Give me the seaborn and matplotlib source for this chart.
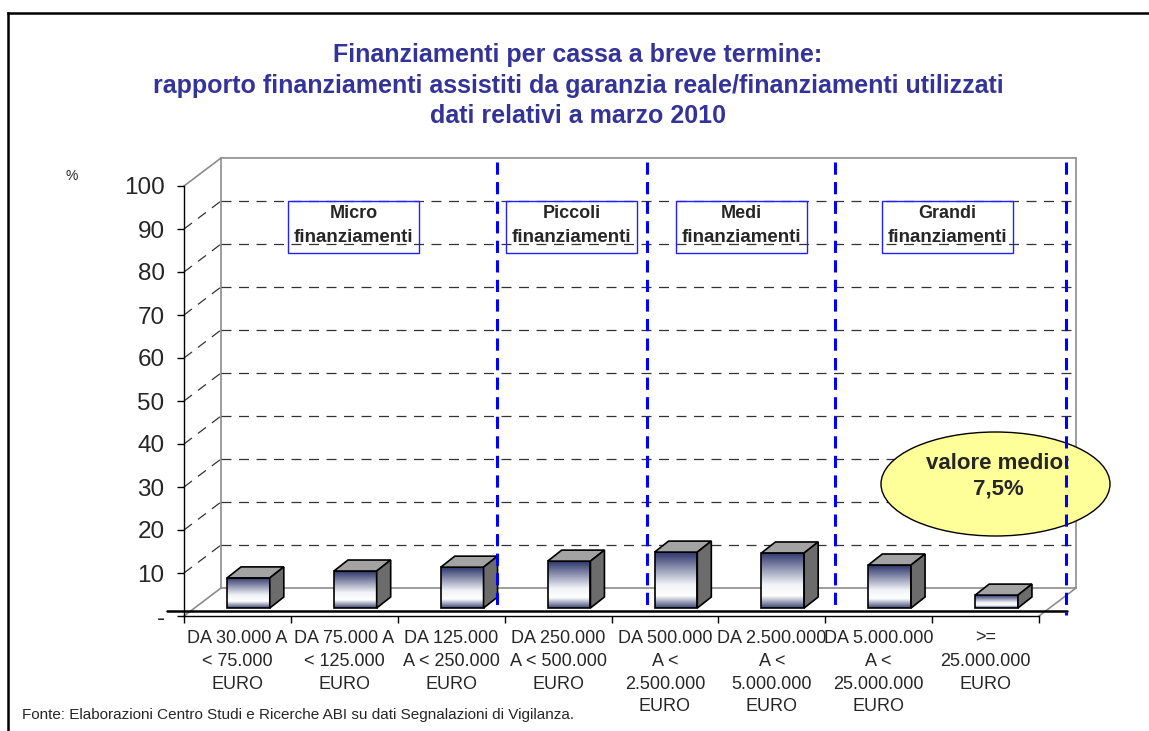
import numpy as np
import matplotlib
matplotlib.use("Agg")
import matplotlib.pyplot as plt
from matplotlib.patches import Polygon, Rectangle, Ellipse
from matplotlib.colors import LinearSegmentedColormap
from matplotlib.transforms import Affine2D
import seaborn as sns

# data
classi = [
    "DA 30.000 A\n< 75.000\nEURO",
    "DA 75.000 A\n< 125.000\nEURO",
    "DA 125.000\nA < 250.000\nEURO",
    "DA 250.000\nA < 500.000\nEURO",
    "DA 500.000\nA <\n2.500.000\nEURO",
    "DA 2.500.000\nA <\n5.000.000\nEURO",
    "DA 5.000.000\nA <\n25.000.000\nEURO",
    ">=\n25.000.000\nEURO",
]
rapporto = [7.0, 8.6, 9.5, 10.9, 13.0, 12.8, 10.0, 3.0]
yticks = [0, 10, 20, 30, 40, 50, 60, 70, 80, 90, 100]
ytick_labels = ["-", "10", "20", "30", "40", "50", "60", "70", "80", "90", "100"]
gruppi = ["Micro", "Piccoli", "Medi", "Grandi"]
valore_medio = "valore medio:\n7,5%"
titolo = [
    "Finanziamenti per cassa a breve termine:",
    "rapporto finanziamenti assistiti da garanzia reale/finanziamenti utilizzati",
    "dati relativi a marzo 2010",
]
fonte = "Fonte: Elaborazioni Centro Studi e Ricerche ABI su dati Segnalazioni di Vigilanza."

W, H = 1149, 731
sns.set_style("white")
plt.rcParams['font.family'] = ['Liberation Sans', 'DejaVu Sans']

fig = plt.figure(figsize=(W / 100, H / 100), dpi=100)


def fpos(x0, y0, x1, y1):
    # pixel box (top-left origin) -> figure fraction
    return [x0 / W, 1 - y1 / H, (x1 - x0) / W, (y1 - y0) / H]


ax = fig.add_axes(fpos(184, 186, 1039, 616))
sns.barplot(x=classi, y=rapporto, order=classi, color="white", saturation=1,
            width=0.4, edgecolor="black", linewidth=1.2, ax=ax)
ax.set_xlim(-0.5, 7.5)
ax.set_ylim(0, 100)
inv = ax.transData.inverted()

wall = np.array([37, 28])   # depth of the 3d box, pixels
shift = np.array([11, 8])   # bars sit a bit inside the floor
depth = np.array([14, 11])  # depth of each bar


def back(x, y):
    return inv.transform(ax.transData.transform((x, y)) + wall)


def seg(p, q, **kw):
    ax.plot([p[0], q[0]], [p[1], q[1]], clip_on=False, **kw)


# walls and grid
grey = dict(color="#8c8c8c", lw=1.2, zorder=0.5)
seg(back(-0.5, 0), back(-0.5, 100), **grey)
seg(back(-0.5, 100), back(7.5, 100), **grey)
seg(back(7.5, 100), back(7.5, 0), **grey)
seg(back(-0.5, 0), back(7.5, 0), **grey)
seg((-0.5, 100), back(-0.5, 100), **grey)
seg((-0.5, 0), back(-0.5, 0), **grey)
seg((7.5, 0), back(7.5, 0), **grey)
dash = dict(color="#333333", lw=0.9, dashes=(8, 6), zorder=0.6)
for g in yticks[1:-1]:
    seg(back(-0.5, g), back(7.5, g), **dash)
    seg((-0.5, g), back(-0.5, g), **dash)

# 3d bars
cmap = LinearSegmentedColormap.from_list(
    "bar", [(0, "#3d4675"), (0.22, "#ffffff"), (0.42, "#f2f3f7"), (1, "#2c356a")])
tr = ax.transData + Affine2D().translate(*shift)
for p in ax.patches:
    x0, w, h = p.get_x(), p.get_width(), p.get_height()
    p.set_transform(tr)
    p.set_facecolor("none")
    p.set_zorder(3)
    im = ax.imshow(np.linspace(0, 1, 256).reshape(-1, 1), cmap=cmap, origin="lower",
                   extent=[x0, x0 + w, 0, h], aspect="auto", zorder=2.9,
                   interpolation="bilinear")
    im.set_transform(tr)
    im.set_clip_path(p)
    d = tr.transform([(x0, 0), (x0 + w, 0), (x0 + w, h), (x0, h)])
    top = inv.transform([d[3], d[2], d[2] + depth, d[3] + depth])
    side = inv.transform([d[1], d[2], d[2] + depth, d[1] + depth])
    ax.add_patch(Polygon(top, closed=True, fc="#a3a3a3", ec="black", lw=1.2,
                         zorder=3, clip_on=False))
    ax.add_patch(Polygon(side, closed=True, fc="#6c6c6c", ec="black", lw=1.2,
                         zorder=3, clip_on=False))

ax.set_xlim(-0.5, 7.5)
ax.set_ylim(0, 100)

# axes
ax.set_yticks(yticks, ytick_labels)
ax.tick_params(axis="y", labelsize=17.5, length=5, width=1, pad=9, direction="out",
               left=True, color="black")
ax.set_xticks(range(len(classi)), classi, fontsize=13, linespacing=1.45)
ax.tick_params(axis="x", length=0, pad=10)
ax.set_xticks(np.arange(-0.5, 8, 1), minor=True)
ax.tick_params(axis="x", which="minor", length=5, width=1, direction="out",
               bottom=True, color="black")
ax.set_xlabel("")
ax.set_ylabel("")
for s in ["top", "right"]:
    ax.spines[s].set_visible(False)
for s in ["left", "bottom"]:
    ax.spines[s].set_color("black")
    ax.spines[s].set_linewidth(1)

# overlay in pixel coordinates for the annotations
ov = fig.add_axes([0, 0, 1, 1])
ov.set_xlim(0, W)
ov.set_ylim(H, 0)
ov.axis("off")

ov.plot([167, 1067], [611, 611], color="black", lw=1.8)

for i, t in enumerate(titolo):
    ov.text(578, 55 + 30.5 * i, t, ha="center", va="center", fontsize=18,
            fontweight="bold", color="#333399")
ov.text(72, 176, "%", ha="center", va="center", fontsize=10)

box_x = [288, 506, 676, 882]
for bx, g in zip(box_x, gruppi):
    ov.add_patch(Rectangle((bx, 201), 131, 52, fill=False, ec="#2020ff", lw=1))
    ov.text(bx + 65.5, 214, g, ha="center", va="center", fontsize=13, fontweight="bold")
    ov.text(bx + 65.5, 238, "finanziamenti", ha="center", va="center", fontsize=13.5,
            fontweight="bold")

ov.add_patch(Ellipse((995.5, 484), 229, 104, fc="#ffff99", ec="black", lw=1))
ov.text(998, 476, valore_medio, ha="center", va="center", fontsize=16,
        fontweight="bold", linespacing=1.3)

for lx, yb in zip([497, 647, 835, 1066], [606, 606, 606, 615]):
    ov.plot([lx, lx], [162, yb], color="#0000ff", lw=2.2, dashes=(4, 2.4))

ov.text(22, 715, fonte, ha="left", va="center", fontsize=11)

# slide frame
ov.plot([8, 8], [H, 13], color="black", lw=1.8, solid_capstyle="projecting")
ov.plot([8, W], [13, 13], color="black", lw=1.8, solid_capstyle="projecting")

fig.savefig("out.png", dpi=100)
